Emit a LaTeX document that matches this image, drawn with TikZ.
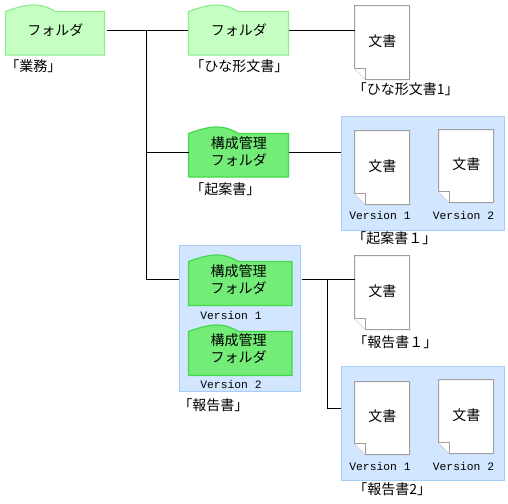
\documentclass[tikz,border=0pt]{standalone}
\usepackage{fontspec}
\newfontfamily\jpfont{Noto Sans CJK JP}
\newfontfamily\verfont{Liberation Mono}
\definecolor{plainfill}{HTML}{C6FFC2}
\definecolor{plainedge}{HTML}{90EC90}
\definecolor{cfgfill}{HTML}{74EC78}
\definecolor{cfgedge}{HTML}{44D84C}
\definecolor{boxfill}{HTML}{D2E6FF}
\definecolor{boxedge}{HTML}{A8CCF8}
\definecolor{docedge}{HTML}{A0A0A0}
\tikzset{
  x=0.75pt,y=-0.75pt,
  plainfolder/.style={fill=plainfill,draw=plainedge,line width=0.9pt},
  cfgfolder/.style={fill=cfgfill,draw=cfgedge,line width=0.9pt},
  docshape/.style={fill=white,draw=docedge,line width=0.75pt},
  txt/.style={font=\jpfont\fontsize{10.5}{12.75}\selectfont,align=center,inner sep=0pt,text=black},
  caption/.style={txt,anchor=west},
  verlabel/.style={font=\verfont\fontsize{8.5}{10}\selectfont,inner sep=0pt,text=black},
  groupbox/.style={rectangle,fill=boxfill,draw=boxedge,line width=0.75pt,inner sep=0pt,anchor=north west},
  conn/.style={draw=black,line width=0.75pt}
}
% name, x, y(peak), w, h, style, text nudge (x,y), text
\newcommand{\folderitem}[8]{%
  \begin{scope}[shift={(#2,#3)}]
    \path[#6] (0,6.5) .. controls (10,3) and (19,0) .. (28,0)
      .. controls (37,0) and (43,2.5) .. (50,6.5) -- (#4,6.5) -- (#4,#5) -- (0,#5) -- cycle;
    \node[txt,minimum width=#4*0.75pt,minimum height=#5*0.75pt,anchor=north west] (#1) at (#7) {#8};
  \end{scope}}
% name, x, y, w, h
\newcommand{\docitem}[5]{%
  \begin{scope}[shift={(#2,#3)}]
    \path[docshape] (0,0) -- (#4,0) -- (#4,#5) -- (11,#5) -- (0,{#5-11}) -- cycle;
    \path[docshape,line width=0.5pt] (0,{#5-11}) -- (11,{#5-11}) -- (11,#5);
    \node[txt,minimum width=#4*0.75pt,minimum height=#5*0.75pt,anchor=north west] (#1) at (0,-2) {文書};
  \end{scope}}
\begin{document}
\begin{tikzpicture}
\useasboundingbox (0,0) rectangle (508,504);
% group boxes
\node[groupbox,minimum width=163*0.75pt,minimum height=114*0.75pt] (boxA) at (341,116) {};
\node[groupbox,minimum width=121*0.75pt,minimum height=146*0.75pt] (boxB) at (179,245) {};
\node[groupbox,minimum width=163*0.75pt,minimum height=114*0.75pt] (boxC) at (341,366) {};
% folders
\folderitem{gyomu}{5.5}{5}{99}{50}{plainfolder}{0,0}{フォルダ}
\folderitem{hina}{188.5}{5}{100}{50}{plainfolder}{0,0}{フォルダ}
\folderitem{kian}{188.5}{127}{100}{50}{cfgfolder}{0,-1}{構成管理\\フォルダ}
\folderitem{hokokuA}{188.5}{255}{103.5}{50.5}{cfgfolder}{-2,-1}{構成管理\\フォルダ}
\folderitem{hokokuB}{188.5}{325}{103.5}{50.5}{cfgfolder}{-2,-1.5}{構成管理\\フォルダ}
% documents
\docitem{docHina}{354.5}{5.5}{55}{74}
\docitem{docKianA}{354.5}{130.5}{55}{74}
\docitem{docKianB}{438.5}{129.5}{55}{73}
\docitem{docRep}{354.5}{255.5}{55}{74}
\docitem{docRepA}{354.5}{381.5}{55}{73}
\docitem{docRepB}{438.5}{379.5}{55}{74}
% captions
\node[caption] (c1) at (5,66) {「業務」};
\node[caption] (c2) at (190,66) {「ひな形文書」};
\node[caption] (c3) at (190,189.5) {「起案書」};
\node[caption] (c4) at (352.5,89) {「ひな形文書1」};
\node[caption] (c5) at (352,238) {「起案書１」};
\node[caption] (c6) at (178,405) {「報告書」};
\node[caption] (c7) at (353,342) {「報告書１」};
\node[caption] (c8) at (353,489.5) {「報告書2」};
% version labels
\node[verlabel] (v1) at (380,215.5) {Version 1};
\node[verlabel] (v2) at (463.5,215.5) {Version 2};
\node[verlabel] (v3) at (231,315.5) {Version 1};
\node[verlabel] (v4) at (231,384.5) {Version 2};
\node[verlabel] (v5) at (380,466.5) {Version 1};
\node[verlabel] (v6) at (463.5,466.5) {Version 2};
% connector points
\coordinate (j1) at (146.5,30.5);
\coordinate (boxBin) at (179,279.5);
\coordinate (boxBout) at (302,279.5);
\coordinate (j2) at (327.5,279.5);
\coordinate (boxCin) at (341,408.5);
% connectors
\draw[conn] ([xshift=1.5pt,yshift=-0.375pt]gyomu.east) -- ([xshift=-0.5pt,yshift=-0.375pt]hina.west);
\draw[conn] (j1) |- ([yshift=-1.125pt]kian.west);
\draw[conn] (j1) |- (boxBin);
\draw[conn] ([yshift=-0.375pt]hina.east) -- ([yshift=-0.375pt]hina.east -| docHina.west);
\draw[conn] ([yshift=-1.125pt]kian.east) -- ([yshift=-1.125pt]kian.east -| boxA.west);
\draw[conn] (boxBout) -- (boxBout -| docRep.west);
\draw[conn] (j2) |- (boxCin);
\end{tikzpicture}
\end{document}
